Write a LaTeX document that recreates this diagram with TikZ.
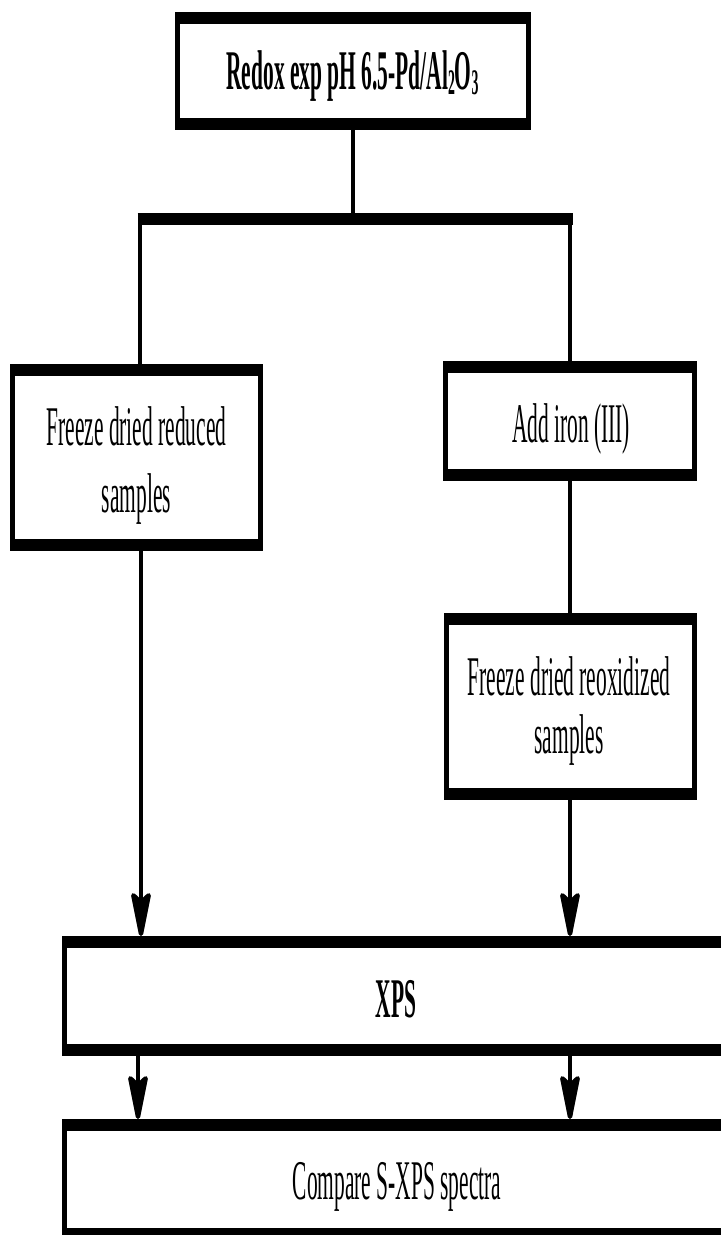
\documentclass[tikz,border=0pt]{standalone}
\usepackage{fontspec}
\setmainfont{Liberation Serif}[FakeStretch=0.383]
\usetikzlibrary{arrows.meta}
\newcommand{\frameit}[1]{%
  \fill (#1.north west) rectangle ([yshift=-12bp]#1.north east);
  \fill ([yshift=12bp]#1.south west) rectangle (#1.south east);
  \fill (#1.north west) rectangle ([xshift=5bp]#1.south west);
  \fill ([xshift=-5bp]#1.north east) rectangle (#1.south east);}
\begin{document}
\begin{tikzpicture}[x=1bp,y=-1bp,
  boxnode/.style={rectangle,inner sep=0pt,outer sep=0pt},
  txt/.style={inner sep=0pt,outer sep=0pt,anchor=base,font=\fontsize{56bp}{67bp}\selectfont},
  btxt/.style={txt,font=\fontsize{56bp}{67bp}\selectfont\bfseries},
  conn/.style={line width=4.5bp},
  arr/.style={line width=4.5bp,-{Stealth[length=56bp,width=22bp,inset=10bp,round]}}]
\clip (0,0) rectangle (721,1235);
\fill[white] (0,0) rectangle (721,1235);
% boxes
\node[boxnode,minimum width=356bp,minimum height=118bp] (top) at (353,71) {};
\node[boxnode,minimum width=253bp,minimum height=187bp] (left) at (136.5,457.5) {};
\node[boxnode,minimum width=254bp,minimum height=120bp] (iron) at (570,421) {};
\node[boxnode,minimum width=253bp,minimum height=187bp] (reox) at (570.5,706.5) {};
\node[boxnode,minimum width=668bp,minimum height=120bp] (xps) at (396,996) {};
\node[boxnode,minimum width=668bp,minimum height=121bp] (cmp) at (396,1179.5) {};
\frameit{top}\frameit{left}\frameit{iron}\frameit{reox}\frameit{xps}\frameit{cmp}
% texts
\node[btxt] (ttop) at (352.5,89) {Redox exp pH 6.5-Pd/Al\raisebox{-5bp}{\fontsize{36bp}{36bp}\selectfont 2}O\raisebox{-5bp}{\fontsize{36bp}{36bp}\selectfont 3}};
\node[txt] (tleft1) at (136.5,445) {Freeze dried reduced};
\node[txt] (tleft2) at (136.5,512) {samples};
\node[txt] (tiron) at (571,442) {Add iron (III)};
\node[txt] (treox1) at (569,695) {Freeze dried reoxidized};
\node[txt] (treox2) at (569,753) {samples};
\node[btxt] (txps) at (396,1017) {XPS};
\node[txt] (tcmp) at (397,1199) {Compare S-XPS spectra};
% connectors
\coordinate (jT) at (353,219);
\coordinate (bl) at (137.5,219);
\coordinate (br) at (572.5,219);
\coordinate (jL) at (140,219);
\coordinate (jR) at (570,219);
\coordinate (aL) at (141,0);
\coordinate (aR) at (570,0);
\coordinate (bL) at (138,0);
\draw[conn] (top.south) -- (jT);
\draw[line width=12bp] (bl) -- (br);
\draw[conn] (jL) -- (jL |- left.north);
\draw[conn] (jR) -- (jR |- iron.north);
\draw[conn] (iron.south -| aR) -- (reox.north -| aR);
\draw[arr] (left.south -| aL) -- (xps.north -| aL);
\draw[arr] (reox.south -| aR) -- (xps.north -| aR);
\draw[arr] (xps.south -| bL) -- (cmp.north -| bL);
\draw[arr] (xps.south -| aR) -- (cmp.north -| aR);
\end{tikzpicture}
\end{document}
